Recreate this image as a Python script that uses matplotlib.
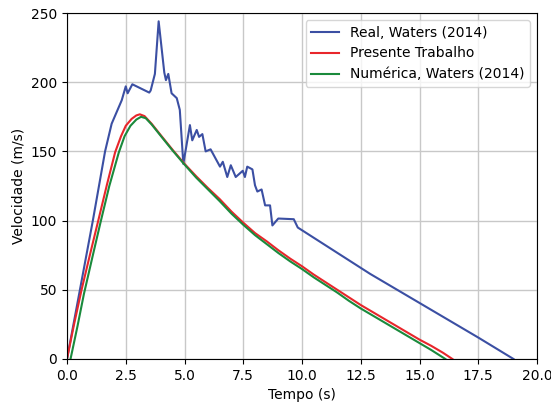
import matplotlib.pyplot as plt

# medicoes reais (Waters, 2014)
t_real = [0.0, 0.55, 1.1, 1.62, 1.9, 2.33, 2.5, 2.58, 2.78, 3.5, 3.56, 3.74, 3.9, 4.14,
          4.21, 4.31, 4.45, 4.67, 4.8, 4.95, 5.23, 5.33, 5.52, 5.62, 5.76, 5.9, 6.11,
          6.51, 6.63, 6.82, 6.97, 7.18, 7.48, 7.57, 7.67, 7.89, 8.0, 8.1, 8.28, 8.43,
          8.64, 8.74, 8.99, 9.65, 9.82, 12.9, 15.0, 17.5, 19.0]
v_real = [0, 50, 100, 150, 170, 187, 197, 192, 198.5, 192.5, 194, 206, 244, 207,
          201.5, 206, 192, 188.5, 180, 141, 169, 158, 165.5, 160.5, 162.5, 150, 151.5,
          139, 142.5, 131.5, 140, 131.5, 136, 131.5, 139, 137, 125.5, 121, 122.5, 111,
          111, 96.5, 101.5, 101, 95, 61.5, 40.5, 15.5, 0]

# presente trabalho
t_pres = [0.0, 0.3, 0.62, 1.0, 1.33, 1.7, 2.05, 2.3, 2.5, 2.75, 2.95, 3.1, 3.3, 3.6,
          4.0, 4.5, 5.0, 5.5, 6.0, 6.5, 7.0, 7.5, 8.0, 8.5, 9.0, 9.5, 10.0, 10.5,
          11.0, 11.5, 12.0, 12.5, 13.0, 13.5, 14.0, 14.5, 15.0, 15.5, 16.0, 16.4]
v_pres = [0, 25, 50, 77, 100, 126, 149.5, 161, 168.5, 173.5, 176, 176.8, 175.5, 170,
          161.5, 151, 141, 132, 123.5, 115.5, 106.5, 98.5, 91, 85, 78.5, 72.5, 67, 61,
          55.5, 50, 44.5, 39, 34, 29, 24, 19, 14, 9.5, 4.5, 0]

# numerica (Waters, 2014)
t_num = [0.15, 0.45, 0.72, 1.1, 1.43, 1.8, 2.2, 2.45, 2.7, 2.95, 3.15, 3.35, 3.6,
         4.0, 4.5, 5.0, 5.5, 6.0, 6.5, 7.0, 7.5, 8.0, 8.5, 9.0, 9.5, 10.0, 10.5,
         11.0, 11.5, 12.0, 12.5, 13.0, 13.5, 14.0, 14.5, 15.0, 15.5, 16.1]
v_num = [0, 24, 47, 75, 99, 125, 149, 161, 168.5, 173, 175, 174, 169.5,
         161, 150.5, 140.5, 131, 122.5, 114, 105, 97, 89.5, 83, 76.5, 70.5, 65, 59,
         53.5, 48, 42, 36.5, 31.5, 26.5, 21.5, 16.5, 11.5, 6.5, 0]

fig = plt.figure(figsize=(5.51, 4.04), dpi=100)
ax = fig.add_axes([0.1216, 0.1114, 0.853, 0.8564])

ax.plot(t_real, v_real, color='#3b4fa3', lw=1.5, label='Real, Waters (2014)')
ax.plot(t_pres, v_pres, color='#e8262b', lw=1.5, label='Presente Trabalho')
ax.plot(t_num, v_num, color='#1a8a3c', lw=1.5, label='Numérica, Waters (2014)')

ax.set_xlim(0, 20)
ax.set_ylim(0, 250)
ax.set_xticks([0, 2.5, 5, 7.5, 10, 12.5, 15, 17.5, 20])
ax.set_yticks([0, 50, 100, 150, 200, 250])
ax.grid(True, color='#c8c8c8', lw=1.0)
ax.set_axisbelow(True)
ax.set_xlabel('Tempo (s)')
ax.set_ylabel('Velocidade (m/s)')
ax.legend(loc='upper right')

fig.savefig('out.png', dpi=100)
